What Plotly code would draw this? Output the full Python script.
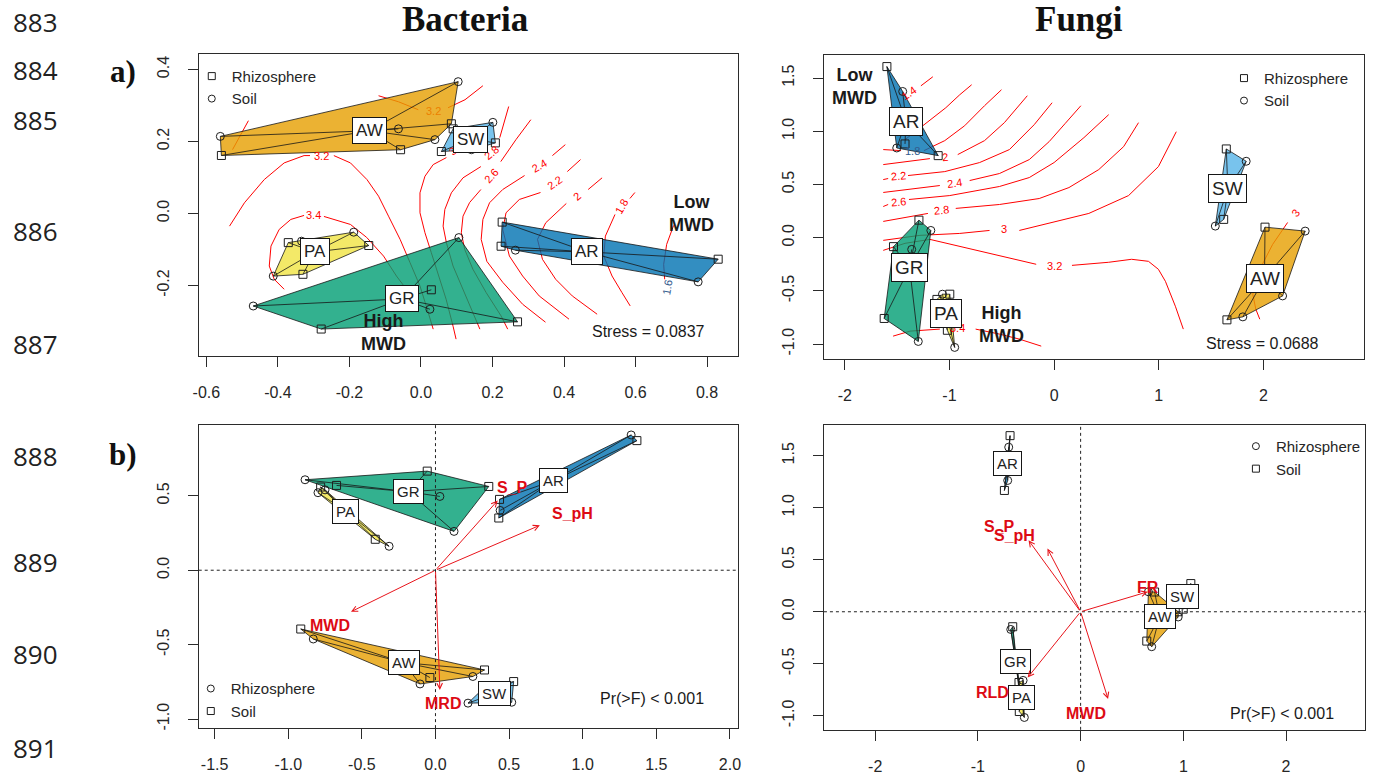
import numpy as np
import plotly.graph_objects as go

W, H = 1378, 784
INK = "#262626"
RED = "#FF0000"
ARROW_RED = "#E8141B"
TEXT_RED = "#DD0A14"
SANS = "Liberation Sans, Arial, sans-serif"
SERIF = "Liberation Serif, Times New Roman, serif"

# ------------------------------------------------------------------ data
groups = ["AR", "AW", "GR", "PA", "SW"]
group_fill = {
    "AR": "rgba(0,114,178,0.8)",
    "AW": "rgba(230,159,0,0.8)",
    "GR": "rgba(0,158,115,0.8)",
    "PA": "rgba(240,228,66,0.8)",
    "SW": "rgba(86,180,233,0.8)",
}

# a) NMDS site scores, bacteria (kind: R = rhizosphere, S = soil)
bac_nmds_x = {
    "AR": [0.227, 0.224, 0.264, 0.831, 0.775],
    "AW": [0.104, -0.561, -0.558, -0.057, -0.063, 0.085, 0.039],
    "GR": [-0.469, -0.279, 0.270, 0.106, 0.029, 0.025],
    "PA": [-0.371, -0.334, -0.188, -0.146, -0.413, -0.330],
    "SW": [0.201, 0.208, 0.057, 0.141, 0.090],
}
bac_nmds_y = {
    "AR": [-0.024, -0.091, -0.102, -0.127, -0.190],
    "AW": [0.366, 0.214, 0.161, 0.177, 0.235, 0.249, 0.205],
    "GR": [-0.257, -0.321, -0.301, -0.067, -0.212, -0.266],
    "PA": [-0.081, -0.077, -0.052, -0.089, -0.174, -0.169],
    "SW": [0.253, 0.196, 0.172, 0.177, 0.235],
}
bac_nmds_kind = {"AR": "RRSRS", "AW": "SSRRSRS", "GR": "SRRSRS", "PA": "RSSRSR", "SW": "SRRSR"}

# a) NMDS site scores, fungi
fun_nmds_x = {
    "AR": [-1.598, -1.447, -1.425, -1.504, -1.108],
    "AW": [2.016, 2.400, 2.184, 1.652, 1.804],
    "GR": [-1.292, -1.178, -1.535, -1.361, -1.624, -1.298],
    "PA": [-0.997, -1.067, -1.120, -0.950, -1.020],
    "SW": [1.646, 1.836, 1.621, 1.541],
}
fun_nmds_y = {
    "AR": [1.608, 1.374, 0.881, 0.843, 0.771],
    "AW": [0.099, 0.062, -0.547, -0.772, -0.744],
    "GR": [0.165, 0.068, -0.084, -0.110, -0.759, -0.975],
    "PA": [-0.531, -0.531, -0.580, -1.031, -0.870],
    "SW": [0.834, 0.718, 0.172, 0.109],
}
fun_nmds_kind = {"AR": "RSRSR", "AW": "RSSRS", "GR": "RSRSRS", "PA": "RSRSR", "SW": "RSRS"}

# b) db-RDA site scores, bacteria
bac_rda_x = {
    "AR": [1.329, 1.368, 0.435, 0.430, 0.439],
    "AW": [-0.915, -0.830, -0.105, -0.038, 0.333, 0.254],
    "GR": [-0.886, -0.056, 0.362, 0.030, 0.126, -0.672],
    "PA": [-0.798, -0.780, -0.315, -0.409, -0.750],
    "SW": [0.531, 0.518, 0.221, 0.330],
}
bac_rda_y = {
    "AR": [0.909, 0.871, 0.476, 0.351, 0.402],
    "AW": [-0.395, -0.462, -0.764, -0.721, -0.670, -0.714],
    "GR": [0.608, 0.666, 0.563, 0.496, 0.261, 0.570],
    "PA": [0.521, 0.559, 0.161, 0.208, 0.540],
    "SW": [-0.748, -0.887, -0.893, -0.790],
}
bac_rda_kind = {"AR": "RSSSR", "AW": "SRRSSR", "GR": "RSSRRS", "PA": "RSRSR", "SW": "SRRS"}

# b) db-RDA site scores, fungi
fun_rda_x = {
    "AR": [-0.687, -0.700, -0.742, -0.710],
    "AW": [0.660, 0.720, 0.644, 0.692, 0.950, 0.950],
    "GR": [-0.661, -0.680, -0.600, -0.580],
    "PA": [-0.597, -0.548, -0.600, -0.560],
    "SW": [1.073, 0.999, 0.930, 0.950],
}
fun_rda_y = {
    "AR": [1.693, 1.582, 1.166, 1.262],
    "AW": [0.192, 0.190, -0.282, -0.336, 0.000, -0.050],
    "GR": [-0.144, -0.170, -0.750, -0.850],
    "PA": [-0.959, -1.016, -0.680, -0.660],
    "SW": [0.271, 0.025, 0.160, 0.120],
}
fun_rda_kind = {"AR": "SRSR", "AW": "RSSRSR", "GR": "SRSR", "PA": "SRSR", "SW": "SSRR"}

# b) fitted environmental vectors (arrow tips) and their label positions
bac_env = ["MWD", "MRD", "S_pH", "S_P"]
bac_env_x = [-0.574, 0.030, 0.709, 0.423]
bac_env_y = [-0.279, -0.804, 0.302, 0.469]
bac_env_lab_x = [-0.717, 0.052, 0.929, 0.524]
bac_env_lab_y = [-0.369, -0.893, 0.380, 0.559]

fun_env = ["S_P", "S_pH", "RLD", "MWD", "FR"]
fun_env_x = [-0.507, -0.323, -0.516, 0.267, 0.654]
fun_env_y = [0.687, 0.607, -0.633, -0.838, 0.192]
fun_env_lab_x = [-0.790, -0.645, -0.855, 0.048, 0.660]
fun_env_lab_y = [0.824, 0.729, -0.774, -0.975, 0.233]

# a) MWD surface isolines (segments split by None), bacteria
bac_iso_x = {
    "3.4": [-0.3825, -0.4103, -0.4242, -0.4194, -0.3964, -0.3639, -0.3269, None,
            -0.2714, -0.2353, -0.1972, -0.1519, -0.1047, -0.0686, -0.0408, -0.0269],
    "3.2": [-0.5353, -0.4936, -0.4381, -0.3825, -0.3269, -0.3103, None,
            -0.2436, -0.1972, -0.1511, -0.1186, -0.0908, -0.0583, -0.0306, -0.0028, 0.0175, 0.0342, None,
            0.1731, 0.1231, 0.0758, None, -0.0075, -0.0631, -0.1186, None,
            -0.4825, -0.5047, -0.5269],
    "3": [0.0711, 0.0342, 0.0111, -0.0028, -0.0028, 0.0111, 0.0286, 0.0481, 0.0703, 0.0897, 0.0981],
    "2.8": [0.2453, 0.2203, None, 0.1675, 0.1175, 0.0850, 0.0667, 0.0619, 0.0711, 0.0897, 0.1175, 0.1453, 0.1647],
    "2.6": [0.3072, 0.2656, 0.2231, None, 0.1675, 0.1361, 0.1175, 0.1128, 0.1222, 0.1453, 0.1822, 0.2239, 0.2425],
    "2.4": [0.4036, 0.3675, None, 0.2897, 0.2286, 0.1917, 0.1731, 0.1683, 0.1842, 0.2286, 0.2842, 0.3481],
    "2.2": [0.4461, 0.4092, None, 0.3342, 0.2750, 0.2378, 0.2286, 0.2472, 0.2842, 0.3306, 0.3767, 0.4139],
    "2": [0.5064, 0.4675, None, 0.4064, 0.3489, 0.3258, 0.3397, 0.3767, 0.4231, 0.4925],
    "1.8": [0.5981, 0.5842, None, 0.5425, 0.5156, 0.5111, 0.5342, 0.5619, 0.5850],
    "1.6": [0.7064, 0.6869, 0.6786, 0.6814],
}
bac_iso_y = {
    "3.4": [-0.2105, -0.1828, -0.1460, -0.0906, -0.0443, -0.0166, -0.0055, None,
            -0.0083, -0.0186, -0.0305, -0.0665, -0.1183, -0.1737, -0.2105, -0.2521],
    "3.2": [-0.0352, 0.0296, 0.0942, 0.1404, 0.1607, 0.1607, None,
            0.1607, 0.1404, 0.0942, 0.0479, -0.0075, -0.0720, -0.1366, -0.2014, -0.2659, -0.3213, None,
            0.3546, 0.3158, 0.2936, None, 0.2881, 0.3102, 0.3269, None,
            0.2576, 0.2161, 0.1773],
    "3": [0.1551, 0.1357, 0.1033, 0.0573, 0.0019, -0.0535, -0.1080, -0.1717, -0.2382, -0.3130, -0.3490],
    "2.8": [0.2970, 0.2105, None, 0.1302, 0.0989, 0.0573, 0.0111, -0.0352, -0.0812, -0.1460, -0.2105, -0.2751, -0.3213],
    "2.6": [0.2604, 0.2050, 0.1440, None, 0.0665, 0.0305, -0.0075, -0.0535, -0.0997, -0.1551, -0.2197, -0.2845, -0.3213],
    "2.4": [0.1911, 0.1607, None, 0.1053, 0.0665, 0.0296, -0.0166, -0.0720, -0.1330, -0.1911, -0.2521, -0.3019],
    "2.2": [0.1496, 0.1163, None, 0.0582, 0.0388, 0.0019, -0.0443, -0.1183, -0.1737, -0.2291, -0.2659, -0.2936],
    "2": [0.0989, 0.0665, None, 0.0277, -0.0258, -0.0720, -0.1274, -0.1828, -0.2291, -0.2798],
    "1.8": [0.0582, 0.0416, None, -0.0028, -0.0629, -0.1183, -0.1737, -0.2197, -0.2568],
    "1.6": [-0.0332, -0.0859, -0.1413, -0.1828],
}
bac_iso_lab = ["3.4", "3.2", "3.2", "3", "2.8", "2.6", "2.4", "2.2", "2", "1.8", "1.6"]
bac_iso_lab_x = [-0.2992, -0.2769, 0.0342, 0.0897, 0.1961, 0.1961, 0.3306, 0.3722, 0.4369, 0.5619, 0.6897]
bac_iso_lab_y = [-0.0055, 0.1607, 0.2853, 0.1726, 0.1681, 0.1033, 0.1310, 0.0850, 0.0479, 0.0202, -0.2050]

# a) MWD surface isolines, fungi
fun_iso_x = {
    "1.4": [-1.273, -1.159],
    "1.6": [-1.425, -1.225, -1.035, -0.902, -0.788],
    "1.8": [-1.633, -1.463, None, -1.244, -1.045, -0.855, -0.665, -0.503],
    "2": [-1.633, -1.187, None, -0.921, -0.665, -0.475, -0.351, -0.256],
    "2.2": [-1.633, -1.586, None, -1.396, -1.045, -0.712, -0.427, -0.190, -0.019],
    "2.4": [-1.633, -1.092, None, -0.807, -0.522, -0.237, -0.047, 0.104, 0.256],
    "2.6": [-1.633, -1.586, None, -1.387, -0.997, -0.522, -0.237, 0.000, 0.285, 0.522],
    "2.8": [-1.633, -1.206, None, -0.940, -0.522, -0.142, 0.142, 0.427, 0.665, 0.807],
    "3": [-1.633, -1.282, -0.902, -0.617, None, -0.332, -0.047, 0.332, 0.712, 0.997, 1.168, None,
          2.232, 2.089, 1.966, 1.899, 1.928, 1.966],
    "3.2": [-1.633, -1.425, -1.187, -0.902, -0.522, -0.171, None,
            0.171, 0.522, 0.741, 0.902, 0.997, 1.064, 1.159, 1.235],
    "3.4": [-1.539, -1.377, -1.092, None, -0.750, -0.522, -0.332, -0.123],
}
fun_iso_y = {
    "1.4": [1.427, 1.512],
    "1.6": [0.921, 1.071, 1.221, 1.343, 1.437],
    "1.8": [0.828, 0.818, None, 0.818, 0.912, 1.052, 1.240, 1.390],
    "2": [0.687, 0.743, None, 0.781, 0.912, 1.081, 1.221, 1.334],
    "2.2": [0.546, 0.556, None, 0.584, 0.621, 0.706, 0.828, 1.062, 1.268],
    "2.4": [0.425, 0.490, None, 0.537, 0.603, 0.734, 0.903, 1.071, 1.240],
    "2.6": [0.293, 0.312, None, 0.359, 0.396, 0.481, 0.565, 0.706, 0.940, 1.156],
    "2.8": [0.153, 0.228, None, 0.275, 0.312, 0.368, 0.471, 0.640, 0.856, 1.081],
    "3": [-0.025, 0.022, 0.040, 0.068, None, 0.068, 0.134, 0.228, 0.396, 0.668, 0.996, None,
          0.143, -0.063, -0.297, -0.531, -0.672, -0.766],
    "3.2": [-0.119, -0.053, -0.016, -0.082, -0.175, -0.250, None,
            -0.260, -0.231, -0.203, -0.222, -0.297, -0.410, -0.644, -0.859],
    "3.4": [-0.925, -0.878, -0.859, None, -0.859, -0.906, -0.953, -1.019],
}
fun_iso_lab = ["1.4", "1.8", "2", "2.2", "2.4", "2.6", "2.8", "3", "3.2", "3.4", "3"]
fun_iso_lab_x = [-1.387, -1.358, -1.045, -1.491, -0.950, -1.491, -1.073, -0.475, 0.000, -0.921, 2.308]
fun_iso_lab_y = [1.362, 0.813, 0.762, 0.575, 0.518, 0.340, 0.256, 0.078, -0.269, -0.850, 0.228]

# axis ticks
bac_nmds_xt = [-0.6, -0.4, -0.2, 0.0, 0.2, 0.4, 0.6, 0.8]
bac_nmds_xtl = ["-0.6", "-0.4", "-0.2", "0.0", "0.2", "0.4", "0.6", "0.8"]
bac_nmds_yt = [-0.2, 0.0, 0.2, 0.4]
bac_nmds_ytl = ["-0.2", "0.0", "0.2", "0.4"]
fun_nmds_xt = [-2, -1, 0, 1, 2]
fun_nmds_xtl = ["-2", "-1", "0", "1", "2"]
fun_nmds_yt = [-1.0, -0.5, 0.0, 0.5, 1.0, 1.5]
fun_nmds_ytl = ["-1.0", "-0.5", "0.0", "0.5", "1.0", "1.5"]
bac_rda_xt = [-1.5, -1.0, -0.5, 0.0, 0.5, 1.0, 1.5, 2.0]
bac_rda_xtl = ["-1.5", "-1.0", "-0.5", "0.0", "0.5", "1.0", "1.5", "2.0"]
bac_rda_yt = [-1.0, -0.5, 0.0, 0.5]
bac_rda_ytl = ["-1.0", "-0.5", "0.0", "0.5"]
fun_rda_xt = [-2, -1, 0, 1, 2]
fun_rda_xtl = ["-2", "-1", "0", "1", "2"]
fun_rda_yt = [-1.0, -0.5, 0.0, 0.5, 1.0, 1.5]
fun_rda_ytl = ["-1.0", "-0.5", "0.0", "0.5", "1.0", "1.5"]

line_numbers = ["883", "884", "885", "886", "887", "888", "889", "890", "891"]

# ------------------------------------------------------------------ helpers
fig = go.Figure()
annotations = []
shapes = []


def convex_hull(xs, ys):
    pts = sorted(set(zip(xs, ys)))
    if len(pts) < 3:
        return pts

    def cross(o, a, b):
        return (a[0] - o[0]) * (b[1] - o[1]) - (a[1] - o[1]) * (b[0] - o[0])

    lower, upper = [], []
    for p in pts:
        while len(lower) >= 2 and cross(lower[-2], lower[-1], p) <= 0:
            lower.pop()
        lower.append(p)
    for p in reversed(pts):
        while len(upper) >= 2 and cross(upper[-2], upper[-1], p) <= 0:
            upper.pop()
        upper.append(p)
    return lower[:-1] + upper[:-1]


def ann(**kw):
    kw.setdefault("xanchor", "center")
    kw.setdefault("yanchor", "middle")
    annotations.append(kw)


def set_axes(n, box, xr, yr, xt, xtl, yt, ytl):
    left, top, right, bottom = box
    sfx = "" if n == 1 else str(n)
    common = dict(showline=True, mirror=True, linecolor="#2b2b2b", linewidth=1.2,
                  ticks="outside", ticklen=10, tickwidth=1, tickcolor="#2b2b2b",
                  showgrid=False, zeroline=False, fixedrange=True,
                  tickfont=dict(family=SANS, size=16, color=INK))
    fig.update_layout(**{
        "xaxis" + sfx: dict(domain=[left / W, right / W], range=list(xr), tickvals=xt,
                            ticktext=xtl, anchor="y" + sfx, ticklabelstandoff=12, **common),
        "yaxis" + sfx: dict(domain=[1 - bottom / H, 1 - top / H], range=list(yr), tickvals=yt,
                            ticktext=ytl, anchor="x" + sfx, tickangle=-90,
                            ticklabelstandoff=12, **common),
    })
    return "x" + sfx, "y" + sfx


def draw_isolines(xa, ya, iso_x, iso_y, labs, lab_x, lab_y, angles, colors):
    xs, ys = [], []
    for k in iso_x:
        xs += iso_x[k] + [None]
        ys += iso_y[k] + [None]
    fig.add_trace(go.Scatter(x=xs, y=ys, mode="lines", line=dict(color=RED, width=1),
                             hoverinfo="skip", showlegend=False, xaxis=xa, yaxis=ya))
    for t, x, y, a, c in zip(labs, lab_x, lab_y, angles, colors):
        ann(x=x, y=y, xref=xa, yref=ya, text=t, showarrow=False, textangle=a,
            font=dict(family=SANS, size=11, color=c))


def draw_groups(xa, ya, xs, ys, kinds, symbols, lab_size, lab_pad):
    for g in groups:
        hull = convex_hull(xs[g], ys[g])
        hx = [p[0] for p in hull] + [hull[0][0]]
        hy = [p[1] for p in hull] + [hull[0][1]]
        fig.add_trace(go.Scatter(x=hx, y=hy, mode="lines", fill="toself", fillcolor=group_fill[g],
                                 line=dict(color="#161616", width=0.8), hoverinfo="skip",
                                 showlegend=False, xaxis=xa, yaxis=ya))
    cents = {}
    sx, sy = [], []
    for g in groups:
        cx, cy = float(np.mean(xs[g])), float(np.mean(ys[g]))
        cents[g] = (cx, cy)
        for x, y in zip(xs[g], ys[g]):
            sx += [cx, x, None]
            sy += [cy, y, None]
    fig.add_trace(go.Scatter(x=sx, y=sy, mode="lines", line=dict(color="#161616", width=0.8),
                             hoverinfo="skip", showlegend=False, xaxis=xa, yaxis=ya))
    for k in ("R", "S"):
        px = [x for g in groups for x, kk in zip(xs[g], kinds[g]) if kk == k]
        py = [y for g in groups for y, kk in zip(ys[g], kinds[g]) if kk == k]
        fig.add_trace(go.Scatter(x=px, y=py, mode="markers",
                                 marker=dict(symbol=symbols[k], size=8, color="#1e1e1e",
                                             line=dict(width=1, color="#1e1e1e")),
                                 hoverinfo="skip", showlegend=False, xaxis=xa, yaxis=ya))
    for g in groups:
        ann(x=cents[g][0], y=cents[g][1], xref=xa, yref=ya, text=g,
            showarrow=False, bgcolor="white", bordercolor="#161616",
            borderwidth=1, borderpad=lab_pad,
            font=dict(family=SANS, size=lab_size, color="#222"))


def draw_legend(xa, ya, name, symbols, order, x_px, y_px):
    labels = {"R": "Rhizosphere", "S": "Soil"}
    for k in order:
        fig.add_trace(go.Scatter(x=[None], y=[None], mode="markers", name=labels[k],
                                 marker=dict(symbol=symbols[k], size=7, color="#1e1e1e",
                                             line=dict(width=1, color="#1e1e1e")),
                                 legend=name, xaxis=xa, yaxis=ya, showlegend=True))
    fig.update_layout(**{name: dict(x=x_px / W, y=1 - y_px / H, xanchor="left", yanchor="top",
                                    bgcolor="rgba(0,0,0,0)", itemwidth=30, tracegroupgap=0,
                                    font=dict(family=SANS, size=15, color=INK))})


def draw_vectors(xa, ya, names, tx, ty, lx, ly, size):
    for n, x, y, a, b in zip(names, tx, ty, lx, ly):
        ann(x=x, y=y, ax=0, ay=0, xref=xa, yref=ya, axref=xa, ayref=ya,
            text="", showarrow=True, arrowhead=5, arrowsize=1.1,
            arrowwidth=1, arrowcolor=ARROW_RED)
        ann(x=a, y=b, xref=xa, yref=ya, text="<b>%s</b>" % n, showarrow=False,
            font=dict(family=SANS, size=size, color=TEXT_RED))
    shapes.append(dict(type="line", xref=xa + " domain", yref=ya, x0=0, x1=1, y0=0, y1=0,
                       line=dict(color="#222", width=1, dash="dot")))
    shapes.append(dict(type="line", xref=xa, yref=ya + " domain", x0=0, x1=0, y0=0, y1=1,
                       line=dict(color="#222", width=1, dash="dot")))


def note(xa, ya, x, y, text, size, bold=False):
    t = "<b>%s</b>" % text if bold else text
    ann(x=x, y=y, xref=xa, yref=ya, text=t, showarrow=False,
        font=dict(family=SANS, size=size, color="#1a1a1a"))


SYM_A = {"R": "square-open", "S": "circle-open"}
SYM_B = {"R": "circle-open", "S": "square-open"}
MIXED_AR = "rgb(51,91,142)"
MIXED_AW = "rgb(235,127,0)"

# ------------------------------------------------------------------ a) bacteria
xa, ya = set_axes(1, (194, 54, 736.7, 357), (-0.6214, 0.8861), (-0.3961, 0.4432),
                  bac_nmds_xt, bac_nmds_xtl, bac_nmds_yt, bac_nmds_ytl)
draw_isolines(xa, ya, bac_iso_x, bac_iso_y, bac_iso_lab, bac_iso_lab_x, bac_iso_lab_y,
              [0, 0, 0, -40, -40, -48, -30, -35, -40, -60, -80],
              [RED, RED, MIXED_AW, RED, RED, RED, RED, RED, RED, RED, MIXED_AR])
draw_groups(xa, ya, bac_nmds_x, bac_nmds_y, bac_nmds_kind, SYM_A, 17, 3)
draw_legend(xa, ya, "legend", SYM_A, ("R", "S"), 187, 60)
note(xa, ya, 0.757, 0.0, "Low<br>MWD", 18, bold=True)
note(xa, ya, -0.105, -0.330, "High<br>MWD", 18, bold=True)
note(xa, ya, 0.636, -0.329, "Stress = 0.0837", 16)

# ------------------------------------------------------------------ a) fungi
xa, ya = set_axes(2, (823.3, 55, 1366.7, 359.5), (-2.200, 2.960), (-1.136, 1.718),
                  fun_nmds_xt, fun_nmds_xtl, fun_nmds_yt, fun_nmds_ytl)
draw_isolines(xa, ya, fun_iso_x, fun_iso_y, fun_iso_lab, fun_iso_lab_x, fun_iso_lab_y,
              [-35, 0, -5, -5, -8, -5, -5, 0, 0, 0, -50],
              [RED, MIXED_AR, RED, RED, RED, RED, RED, RED, RED, RED, RED])
draw_groups(xa, ya, fun_nmds_x, fun_nmds_y, fun_nmds_kind, SYM_A, 19, 3)
draw_legend(xa, ya, "legend2", SYM_A, ("R", "S"), 1226, 62)
note(xa, ya, -1.909, 1.418, "Low<br>MWD", 18, bold=True)
note(xa, ya, -0.506, -0.813, "High<br>MWD", 18, bold=True)
note(xa, ya, 1.994, -0.991, "Stress = 0.0688", 16)

# ------------------------------------------------------------------ b) bacteria
xa, ya = set_axes(3, (194, 426, 736.7, 730), (-1.608, 2.054), (-1.061, 0.9765),
                  bac_rda_xt, bac_rda_xtl, bac_rda_yt, bac_rda_ytl)
draw_groups(xa, ya, bac_rda_x, bac_rda_y, bac_rda_kind, SYM_B, 15, 3)
draw_vectors(xa, ya, bac_env, bac_env_x, bac_env_y, bac_env_lab_x, bac_env_lab_y, 16)
draw_legend(xa, ya, "legend3", SYM_B, ("R", "S"), 186, 674)
note(xa, ya, 1.474, -0.865, "Pr(>F) < 0.001", 16)

# ------------------------------------------------------------------ b) fungi
xa, ya = set_axes(4, (823.3, 426, 1368.3, 731.7), (-2.499, 2.772), (-1.135, 1.796),
                  fun_rda_xt, fun_rda_xtl, fun_rda_yt, fun_rda_ytl)
draw_groups(xa, ya, fun_rda_x, fun_rda_y, fun_rda_kind, SYM_B, 15, 3)
draw_vectors(xa, ya, fun_env, fun_env_x, fun_env_y, fun_env_lab_x, fun_env_lab_y, 16)
draw_legend(xa, ya, "legend4", SYM_B, ("R", "S"), 1238, 431)
note(xa, ya, 1.956, -0.975, "Pr(>F) < 0.001", 16)

# ------------------------------------------------------------------ page text
for text, cx in (("Bacteria", 462), ("Fungi", 1080)):
    ann(x=cx / W, y=1 - 20 / H, xref="paper", yref="paper", showarrow=False,
        text="<b>%s</b>" % text, font=dict(family=SERIF, size=35, color="#111"))
for text, cy in (("a)", 72), ("b)", 456)):
    ann(x=118 / W, y=1 - cy / H, xref="paper", yref="paper", showarrow=False,
        text="<b>%s</b>" % text, font=dict(family=SERIF, size=31, color="#111"))
for text, cy in zip(line_numbers, (22, 70, 120, 232, 345, 457, 563, 656, 750)):
    ann(x=30 / W, y=1 - cy / H, xref="paper", yref="paper", showarrow=False,
        text=text, font=dict(family="Open Sans, Noto Sans, sans-serif", size=26, color="#222"))

fig.update_layout(width=W, height=H, margin=dict(l=0, r=0, t=0, b=0), autosize=False,
                  paper_bgcolor="white", plot_bgcolor="white", showlegend=True,
                  annotations=annotations, shapes=shapes)
fig.write_html("out.html")
